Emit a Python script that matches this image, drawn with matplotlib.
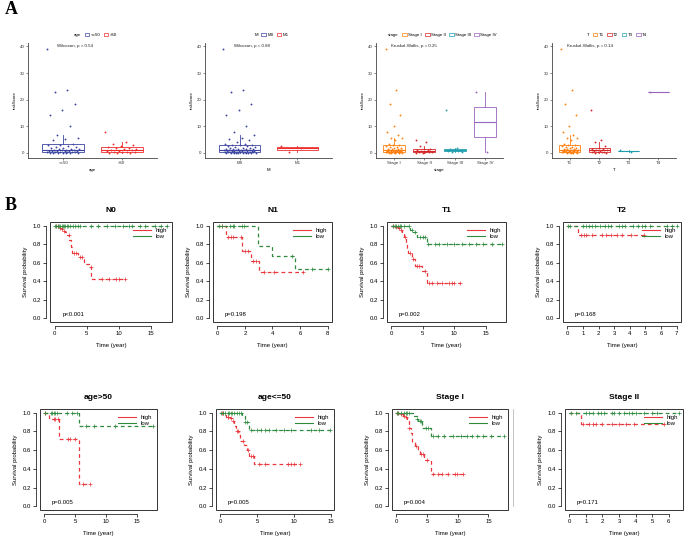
import numpy as np
import matplotlib.pyplot as plt
from matplotlib.lines import Line2D
from matplotlib.patches import Patch, Rectangle

plt.rcParams['font.family'] = ['Liberation Sans', 'DejaVu Sans']

# ---------------- panel A data: riskScore by clinical group ----------------
age_groups = ['<=50', '>50']
age_le50 = [39.0, 23.8, 22.8, 18.5, 16.2, 14.3, 10.3, 6.8, 5.8, 5.2, 4.8, 3.2, 3.0, 2.8,
            2.6, 2.4, 2.2, 2.0, 1.8, 1.6, 1.4, 1.3, 1.2, 1.1, 1.0, 1.0, 0.9, 0.9, 0.8, 0.8,
            0.7, 0.6, 0.5, 0.4, 0.3, 0.3, 0.2, 0.2, 0.1, 0.1, 0.1, 0.05, 0.05, 0.0, 0.0]
age_gt50 = [8.0, 4.0, 3.3, 3.0, 2.7, 2.2, 2.0, 1.8, 1.6, 1.4, 1.2, 1.0, 0.9, 0.7, 0.5,
            0.4, 0.3, 0.2, 0.1, 0.1, 0.0]

m_groups = ['M0', 'M1']
m0 = [39.0, 23.8, 22.8, 18.5, 16.2, 14.3, 10.3, 8.0, 6.8, 5.8, 5.2, 4.8, 4.0, 3.3, 3.2,
      3.0, 3.0, 2.8, 2.7, 2.6, 2.4, 2.2, 2.0, 1.8, 1.8, 1.6, 1.6, 1.4, 1.4, 1.3, 1.2, 1.2,
      1.1, 1.0, 1.0, 1.0, 0.9, 0.9, 0.9, 0.8, 0.8, 0.7, 0.7, 0.6, 0.5, 0.4, 0.4, 0.3, 0.3,
      0.3, 0.2, 0.2, 0.2, 0.1, 0.1, 0.1, 0.1, 0.05, 0.05, 0.0, 0.0, 0.0, 0.0]
m1 = [2.5, 2.0, 0.5]

stage_groups = ['Stage I', 'Stage II', 'Stage III', 'Stage IV']
stage_1 = [39.0, 23.8, 18.5, 14.3, 10.3, 8.0, 6.8, 5.8, 5.5, 5.0, 3.4, 3.0, 2.8, 2.6, 2.4,
           2.2, 2.0, 1.8, 1.6, 1.4, 1.3, 1.2, 1.1, 1.0, 0.95, 0.9, 0.85, 0.8, 0.75, 0.7,
           0.65, 0.6, 0.55, 0.5, 0.45, 0.4, 0.35, 0.3, 0.25, 0.2, 0.2, 0.15, 0.1, 0.1,
           0.05, 0.0]
stage_2 = [5.0, 4.0, 2.5, 1.6, 1.5, 1.2, 1.0, 0.6, 0.5, 0.3, 0.2, 0.2, 0.1, 0.0]
stage_3 = [16.2, 2.0, 1.5, 1.2, 1.0, 0.9, 0.8, 0.4, 0.2]
stage_4 = [23.0, 0.5]

t_groups = ['T1', 'T2', 'T3', 'T4']
t_1 = [39.0, 23.8, 18.5, 14.3, 10.3, 8.0, 6.8, 5.8, 5.5, 5.0, 3.4, 3.0, 2.8, 2.6, 2.4,
       2.2, 2.0, 1.8, 1.6, 1.4, 1.3, 1.2, 1.1, 1.0, 0.95, 0.9, 0.85, 0.8, 0.75, 0.7,
       0.65, 0.6, 0.55, 0.5, 0.45, 0.4, 0.35, 0.3, 0.25, 0.2, 0.15, 0.1, 0.05, 0.0]
t_2 = [16.2, 5.0, 4.0, 2.5, 2.0, 1.6, 1.5, 1.2, 1.0, 0.8, 0.6, 0.5, 0.3, 0.2, 0.2, 0.1, 0.0]
t_3 = [1.0, 0.5]
t_4 = [22.8]

box_tests = ['Wilcoxon, p = 0.54', 'Wilcoxon, p = 0.88',
             'Kruskal-Wallis, p = 0.25', 'Kruskal-Wallis, p = 0.14']

# ---------------- panel B data: Kaplan-Meier curves ----------------
# (drop times, survival after each drop, censor times)
N0_high = ([0, 0.65, 1.1, 1.35, 1.6, 2.0, 2.3, 2.5, 2.7, 3.7, 4.5, 5.5, 5.7],
           [1.0, 0.98, 0.96, 0.945, 0.93, 0.90, 0.85, 0.77, 0.71, 0.66, 0.59, 0.55, 0.42],
           [0.3, 0.5, 0.9, 1.2, 1.5, 2.2, 3.0, 3.3, 4.0, 4.3, 5.6, 7.4, 8.5, 9.6, 10.0, 10.9])
N0_low = ([0], [1.0],
          [0.1, 0.3, 0.5, 0.7, 0.9, 1.1, 1.3, 1.5, 1.7, 1.9, 2.1, 2.4, 2.8, 3.2, 3.6, 4.0,
           5.6, 6.8, 8.1, 9.3, 10.6, 11.5, 12.0, 13.2, 14.0, 15.5, 16.5, 17.5])

N1_high = ([0, 0.6, 1.75, 2.45, 3.05], [1.0, 0.88, 0.73, 0.62, 0.50],
           [0.3, 0.8, 1.0, 1.1, 1.7, 2.0, 2.2, 2.6, 2.8, 3.4, 4.1, 6.2])
N1_low = ([0, 2.95, 4.0, 5.65], [1.0, 0.78, 0.67, 0.53],
          [0.1, 0.3, 0.9, 1.1, 1.2, 1.8, 1.9, 5.4, 6.9, 8.0])

T1_high = ([0, 0.5, 1.0, 1.4, 1.7, 2.0, 2.25, 2.5, 2.7, 3.3, 3.8, 4.8, 5.6],
           [1.0, 0.99, 0.97, 0.95, 0.93, 0.88, 0.81, 0.76, 0.70, 0.645, 0.565, 0.51, 0.38],
           [0.3, 0.7, 1.2, 1.5, 2.1, 2.9, 3.5, 4.1, 4.4, 5.3, 6.0, 6.5, 7.2, 8.1, 9.2, 9.6,
            10.0, 10.9])
T1_low = ([0, 3.0, 3.5, 4.0, 5.7], [1.0, 0.95, 0.93, 0.88, 0.80],
          [0.2, 0.5, 0.8, 1.0, 1.3, 1.5, 2.0, 2.8, 3.2, 3.7, 4.5, 5.0, 5.4, 5.8, 7.0, 7.6,
           8.8, 10.0, 11.2, 12.4, 13.5, 14.6, 16.0, 17.5])

T2_high = ([0, 0.7], [1.0, 0.9],
           [0.9, 1.05, 1.2, 1.6, 2.2, 2.5, 2.8, 3.2, 3.5, 4.1, 4.9])
T2_low = ([0], [1.0],
          [0.05, 0.2, 1.0, 1.2, 1.4, 1.6, 1.8, 2.1, 2.4, 2.6, 2.8, 3.3, 3.5, 3.7, 4.2, 4.5,
           4.8, 5.0, 5.3, 6.4, 6.7, 7.0])

age_old_high = ([0, 0.7, 2.4, 5.6], [1.0, 0.93, 0.72, 0.24],
                [0.1, 1.5, 1.8, 2.2, 3.8, 4.2, 4.9, 6.3, 7.3])
age_old_low = ([0, 5.6], [1.0, 0.86],
               [0.1, 1.0, 1.3, 1.5, 1.8, 2.0, 3.6, 4.4, 5.3, 6.8, 8.1, 11.4, 17.5])

age_young_high = ([0, 0.5, 0.8, 1.3, 1.6, 1.9, 2.1, 2.5, 2.7, 3.2, 3.6, 3.9, 4.6],
                  [1.0, 0.98, 0.95, 0.94, 0.91, 0.86, 0.80, 0.76, 0.70, 0.65, 0.60, 0.54, 0.45],
                  [0.2, 0.4, 1.0, 1.1, 1.4, 1.7, 2.2, 2.4, 3.0, 3.7, 4.1, 4.4, 5.2, 6.0, 9.2,
                   9.6, 10.0, 10.8])
age_young_low = ([0, 2.9, 3.3, 3.9], [1.0, 0.96, 0.90, 0.82],
                 [0.1, 0.3, 0.6, 1.0, 1.2, 1.4, 1.6, 1.9, 2.2, 2.5, 2.8, 3.4, 3.6, 4.2, 5.0,
                  5.5, 6.0, 6.6, 7.5, 8.6, 9.5, 12.3, 13.3, 14.8])

stageI_high = ([0, 0.5, 1.1, 1.5, 1.8, 2.0, 2.4, 2.6, 3.0, 3.5, 3.8, 4.5, 5.6],
               [1.0, 0.99, 0.97, 0.95, 0.93, 0.84, 0.78, 0.69, 0.64, 0.59, 0.555, 0.50, 0.35],
               [0.1, 0.3, 0.7, 1.3, 1.6, 2.1, 3.2, 4.0, 4.3, 5.0, 6.0, 6.8, 7.5, 8.4, 9.5,
                9.9, 10.8])
stageI_low = ([0, 2.9, 3.3, 3.6, 4.2, 5.7], [1.0, 0.96, 0.93, 0.91, 0.84, 0.75],
              [0.1, 0.3, 0.8, 1.2, 1.5, 1.8, 2.0, 3.4, 3.8, 4.0, 4.8, 5.2, 6.0, 6.8, 7.8,
               9.2, 10.5, 11.5, 12.3, 13.1, 14.2, 15.5, 17.5])

stageII_high = ([0, 0.7], [1.0, 0.875],
                [0.8, 1.2, 1.4, 1.6, 2.0, 2.6, 3.0, 3.4, 3.9, 5.7])
stageII_low = ([0], [1.0],
               [0.1, 0.4, 1.0, 1.2, 1.4, 1.7, 1.9, 2.1, 2.6, 2.7, 3.0, 3.3, 3.6, 3.8, 4.0,
                4.5, 5.0, 5.3, 6.6])

km_titles = ['N0', 'N1', 'T1', 'T2', 'age>50', 'age<=50', 'Stage I', 'Stage II']
km_pvals = ['p<0.001', 'p=0.198', 'p=0.002', 'p=0.168',
            'p=0.005', 'p=0.005', 'p=0.004', 'p=0.171']
km_xticks = [[0, 5, 10, 15], [0, 2, 4, 6, 8], [0, 5, 10, 15], [0, 1, 2, 3, 4, 5, 6, 7],
             [0, 5, 10, 15], [0, 5, 10, 15], [0, 5, 10, 15], [0, 1, 2, 3, 4, 5, 6]]
km_data = [(N0_high, N0_low), (N1_high, N1_low), (T1_high, T1_low), (T2_high, T2_low),
           (age_old_high, age_old_low), (age_young_high, age_young_low),
           (stageI_high, stageI_low), (stageII_high, stageII_low)]

# ---------------- figure ----------------
W, H = 685.0, 537.0
fig = plt.figure(figsize=(W / 100, H / 100), dpi=100)


def add_ax(l, t, r, b):
    return fig.add_axes([l / W, 1 - b / H, (r - l) / W, (b - t) / H])


def box_panel(ax, var, groups, values, colors, test):
    for i, (vals, col) in enumerate(zip(values, colors)):
        pos = i + 1
        ax.boxplot([vals], positions=[pos], widths=0.72, showfliers=False, showcaps=False,
                   patch_artist=True,
                   boxprops=dict(facecolor='white', edgecolor=col, lw=0.6),
                   medianprops=dict(color=col, lw=0.8),
                   whiskerprops=dict(color=col, lw=0.6))
        n = len(vals)
        # deterministic jitter, positions only
        jit = ((np.arange(n) * 0.618034) % 1 - 0.5) * 0.56
        ax.scatter(pos + jit, vals, s=1.8, color=col, lw=0, zorder=3)
    ax.set_xlim(0.4, len(groups) + 0.6)
    ax.set_ylim(-1.9, 41.3)
    ax.set_xticks(range(1, len(groups) + 1))
    ax.set_xticklabels(groups)
    ax.set_yticks([0, 10, 20, 30, 40])
    for s in ['top', 'right']:
        ax.spines[s].set_visible(False)
    for s in ['left', 'bottom']:
        ax.spines[s].set_linewidth(0.6)
        ax.spines[s].set_color('#444444')
    ax.tick_params(labelsize=3.2, length=1.5, width=0.4, pad=1, colors='#333333')
    ax.set_ylabel('riskScore', fontsize=3.2, labelpad=2)
    ax.set_xlabel(var, fontsize=3.2, labelpad=2)
    ax.text(0.9, 40, test, fontsize=3.2, ha='left', va='center', color='#222222')
    handles = [Line2D([], [], ls='none')] + \
              [Patch(facecolor='white', edgecolor=c, lw=0.5) for c in colors]
    ax.legend(handles, [var] + groups, ncol=len(groups) + 1, loc='lower center',
              bbox_to_anchor=(0.5, 1.03), frameon=False, fontsize=3.2,
              handlelength=1.0, handleheight=0.8, handletextpad=0.3, columnspacing=0.8,
              borderpad=0)


def km_panel(ax, title, curves, xticks, pval):
    red, green = '#E8383D', '#2E8B3E'
    xmax = 0
    for (t, s, cens), col in zip(curves, [red, green]):
        end = max(cens[-1], t[-1])
        xmax = max(xmax, end)
        ax.step(list(t) + [end], list(s) + [s[-1]], where='post', color=col,
                ls=(0, (3, 2.5)), lw=0.9)
        idx = np.searchsorted(t, cens, side='right') - 1
        ax.plot(cens, np.array(s)[idx], ls='none', marker='+', color=col, ms=3.5, mew=0.5)
    ax.set_xlim(-0.04 * xmax, 1.04 * xmax)
    ax.set_ylim(-0.04, 1.04)
    ax.set_xticks(xticks)
    ax.set_yticks([0, 0.2, 0.4, 0.6, 0.8, 1.0])
    ax.set_yticklabels(['0.0', '0.2', '0.4', '0.6', '0.8', '1.0'], rotation=90, va='center')
    for s in ['top', 'right']:
        ax.spines[s].set_visible(False)
    ax.spines['left'].set_position(('outward', 3))
    ax.spines['bottom'].set_position(('outward', 3))
    ax.spines['left'].set_bounds(0, 1)
    ax.spines['bottom'].set_bounds(xticks[0], xticks[-1])
    for s in ['left', 'bottom']:
        ax.spines[s].set_linewidth(0.5)
    ax.add_patch(Rectangle((0, 0), 1, 1, transform=ax.transAxes, fill=False, lw=0.7,
                           ec='#333333', clip_on=False))
    ax.tick_params(labelsize=4.3, length=2, width=0.5, pad=1.5)
    ax.set_title(title, fontsize=6, fontweight='bold', pad=7)
    ax.set_ylabel('Survival probability', fontsize=4.3, labelpad=3)
    ax.set_xlabel('Time (year)', fontsize=4.3, labelpad=5)
    ax.text(0.1, 0.06, pval, transform=ax.transAxes, fontsize=4.3)
    ax.legend([Line2D([], [], color=red, lw=0.8), Line2D([], [], color=green, lw=0.8)],
              ['high', 'low'], loc='upper right', bbox_to_anchor=(1.0, 0.99), frameon=False,
              fontsize=4.3, handlelength=3, labelspacing=0.2, borderpad=0.3)


# panel A
blue_red = ['#3B45A1', '#EE2C2C']
four = ['#FF7F0E', '#D62728', '#1F9EAE', '#9A63BD']
box_specs = [
    ('age', age_groups, [age_le50, age_gt50], blue_red),
    ('M', m_groups, [m0, m1], blue_red),
    ('stage', stage_groups, [stage_1, stage_2, stage_3, stage_4], four),
    ('T', t_groups, [t_1, t_2, t_3, t_4], four),
]
box_x = [(28, 157), (205, 332), (376, 503), (552, 676)]
for (var, groups, vals, cols), (l, r), test in zip(box_specs, box_x, box_tests):
    box_panel(add_ax(l, 43, r, 158), var, groups, vals, cols, test)

# panel B
km_boxes = [(50, 222, 172, 322), (213, 222, 332, 322), (387, 222, 506, 322),
            (563, 222, 681, 322),
            (40, 409, 157, 510), (216, 409, 334, 510), (392, 409, 508, 510),
            (565, 409, 683, 510)]
for (l, t, r, b), title, curves, xt, pv in zip(km_boxes, km_titles, km_data, km_xticks,
                                              km_pvals):
    km_panel(add_ax(l, t, r, b), title, curves, xt, pv)

# faint separator line left over from the source layout
fig.add_artist(Line2D([513 / W, 513 / W], [1 - 409 / H, 1 - 506 / H], color='#BBBBBB',
                      lw=0.6))

fig.text(5 / W, 1 - 10 / H, 'A', fontsize=13, fontweight='bold', family='Liberation Serif',
         va='center', ha='left')
fig.text(5 / W, 1 - 205 / H, 'B', fontsize=13, fontweight='bold', family='Liberation Serif',
         va='center', ha='left')

fig.savefig('out.png', dpi=100)
